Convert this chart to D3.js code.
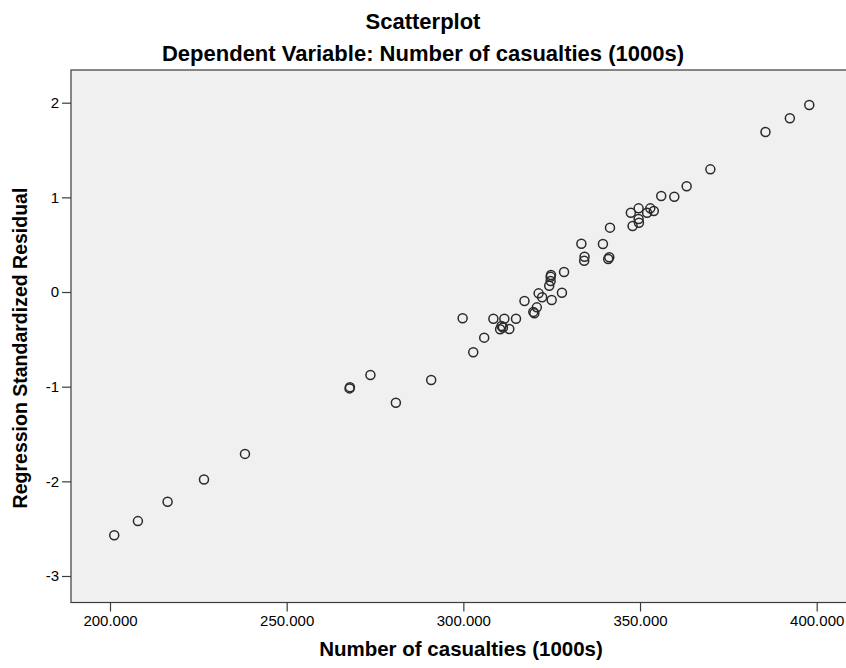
<!DOCTYPE html>
<html>
<head>
<meta charset="utf-8">
<script src="https://cdn.jsdelivr.net/npm/d3@7"></script>
<style>
  html, body { margin: 0; padding: 0; background: #ffffff; }
  svg { display: block; }
  text { font-family: "Liberation Sans", Arial, sans-serif; fill: #000; }
</style>
</head>
<body>
<svg id="chart" width="846" height="668"></svg>
<script>
// ---- data ----
const casualties = [
  201.2, 207.9, 216.3, 226.6, 238.2, 267.8, 267.9, 273.7, 280.9, 290.9,
  299.8, 302.8, 305.9, 308.5, 311.6, 314.9, 310.8, 310.4, 313.0, 311.2,
  317.3, 319.8, 320.1, 320.8, 321.3, 322.3, 324.3, 324.7, 324.7, 324.8,
  325.0, 327.9, 328.5, 333.4, 334.3, 334.2, 339.5, 341.3, 341.0, 341.5,
  347.4, 347.9, 349.6, 349.6, 349.7, 352.0, 352.9, 353.9, 356.0, 359.7,
  363.2, 369.9, 385.5, 392.4, 397.9
];
const stdResiduals = [
  -2.57, -2.42, -2.215, -1.98, -1.71, -1.018, -1.005, -0.877, -1.17, -0.93,
  -0.278, -0.637, -0.482, -0.282, -0.282, -0.282, -0.359, -0.394, -0.391, -0.375,
  -0.095, -0.21, -0.225, -0.162, -0.014, -0.056, 0.067, 0.116, 0.16, 0.18,
  -0.085, -0.007, 0.211, 0.51, 0.373, 0.331, 0.507, 0.367, 0.349, 0.68,
  0.838, 0.697, 0.884, 0.771, 0.732, 0.838, 0.884, 0.856, 1.014, 1.007,
  1.117, 1.296, 1.69, 1.835, 1.976
];
const xTicks = [200, 250, 300, 350, 400];
const yTicks = [-3, -2, -1, 0, 1, 2];
const chartTitle = "Scatterplot";
const chartSubtitle = "Dependent Variable: Number of casualties (1000s)";
const xTitle = "Number of casualties (1000s)";
const yTitle = "Regression Standardized Residual";

const points = casualties.map((c, i) => ({ x: c, y: stdResiduals[i] }));

// ---- layout ----
const W = 846, H = 668;
const frame = { left: 71, top: 70, right: 848, bottom: 602.5 };

const x = d3.scaleLinear().domain([200, 400]).range([110, 816.7]);
const y = d3.scaleLinear().domain([-3, 2]).range([576, 102.7]);

const svg = d3.select("#chart");

// plot background
svg.append("rect")
  .attr("x", frame.left).attr("y", frame.top)
  .attr("width", frame.right - frame.left).attr("height", frame.bottom - frame.top)
  .attr("fill", "#f0f0f0")
  .attr("stroke", "#3c3c3c").attr("stroke-width", 1.2);

// x axis
const xAxis = d3.axisBottom(x).tickValues(xTicks).tickSize(9).tickPadding(4)
  .tickFormat(d3.format(".3f"));
const gx = svg.append("g").attr("transform", `translate(0,${frame.bottom})`).call(xAxis);
gx.select(".domain").remove();
gx.selectAll(".tick line").attr("stroke", "#3c3c3c").attr("stroke-width", 1.2);
gx.selectAll(".tick text").attr("font-size", 15).attr("font-family", "Liberation Sans, Arial, sans-serif").attr("fill", "#000");

// y axis
const yAxis = d3.axisLeft(y).tickValues(yTicks).tickSize(9).tickPadding(3)
  .tickFormat(d => String(d));
const gy = svg.append("g").attr("transform", `translate(${frame.left},0)`).call(yAxis);
gy.select(".domain").remove();
gy.selectAll(".tick line").attr("stroke", "#3c3c3c").attr("stroke-width", 1.2);
gy.selectAll(".tick text").attr("font-size", 15).attr("font-family", "Liberation Sans, Arial, sans-serif").attr("fill", "#000");

// points
svg.append("g").selectAll("circle")
  .data(points).join("circle")
  .attr("cx", d => x(d.x)).attr("cy", d => y(d.y))
  .attr("r", 4.5)
  .attr("fill", "none")
  .attr("stroke", "#2a2a2a").attr("stroke-width", 1.5);

// titles
svg.append("text").attr("x", W / 2).attr("y", 29)
  .attr("text-anchor", "middle").attr("font-size", 22).attr("font-weight", "bold")
  .text(chartTitle);
svg.append("text").attr("x", W / 2).attr("y", 61)
  .attr("text-anchor", "middle").attr("font-size", 22).attr("font-weight", "bold")
  .text(chartSubtitle);

svg.append("text").attr("x", 461).attr("y", 656)
  .attr("text-anchor", "middle").attr("font-size", 20.5).attr("font-weight", "bold")
  .text(xTitle);

svg.append("text")
  .attr("transform", `translate(27,348) rotate(-90)`)
  .attr("text-anchor", "middle").attr("font-size", 19.5).attr("font-weight", "bold")
  .text(yTitle);
</script>
</body>
</html>
